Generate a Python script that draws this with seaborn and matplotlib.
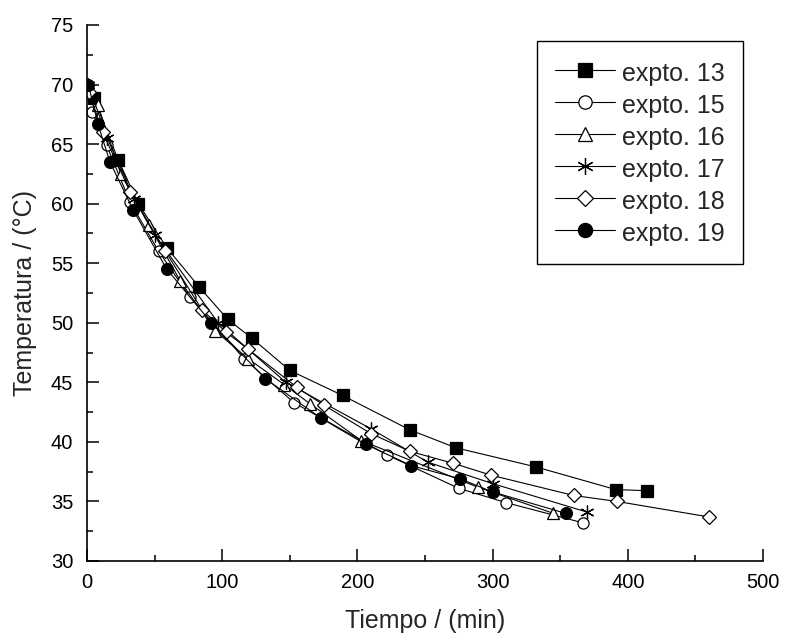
import matplotlib
matplotlib.use("Agg")
import matplotlib.pyplot as plt
from matplotlib.ticker import MultipleLocator
import seaborn as sns
import pandas as pd

# Cooling curves: time (min) and temperature (°C) for each experiment
t13 = [5, 23, 38, 59, 83, 104, 122, 150, 189, 239, 273, 332, 391, 414]
T13 = [68.9, 63.7, 60.0, 56.3, 53.0, 50.3, 48.7, 46.0, 43.9, 41.0, 39.5, 37.9, 36.0, 35.9]

t15 = [4, 14.5, 32, 53, 76, 116, 153, 222, 275, 310, 367]
T15 = [67.7, 64.9, 60.1, 56.0, 52.2, 47.0, 43.3, 38.9, 36.1, 34.9, 33.2]

t16 = [8, 25, 46, 69, 95, 119, 146, 165, 203, 289, 345]
T16 = [68.3, 62.5, 58.2, 53.5, 49.3, 47.0, 44.8, 43.2, 40.1, 36.2, 34.0]

t17 = [1, 15, 35, 50, 97, 147, 210, 252, 300, 370]
T17 = [70.0, 65.5, 60.4, 57.4, 50.0, 45.0, 41.1, 38.3, 36.5, 34.1]

t18 = [1.5, 11.5, 32, 58, 85, 103, 119, 155, 175, 210, 239, 271, 299, 360, 392, 460]
T18 = [69.4, 66.0, 61.0, 56.0, 51.1, 49.2, 47.8, 44.6, 43.1, 40.7, 39.2, 38.2, 37.2, 35.5, 35.0, 33.7]

t19 = [1, 8, 17, 34, 59, 92, 132, 173, 206, 240, 276, 300, 354]
T19 = [70.0, 66.7, 63.5, 59.5, 54.5, 50.0, 45.3, 42.0, 39.8, 38.0, 36.9, 35.8, 34.0]

labels = ["expto. 13", "expto. 15", "expto. 16", "expto. 17", "expto. 18", "expto. 19"]

series = [
    (t13, T13, labels[0], dict(marker="s", markersize=8, mfc="black", mec="black")),
    (t15, T15, labels[1], dict(marker="o", markersize=8, mfc="white", mec="black")),
    (t16, T16, labels[2], dict(marker="^", markersize=8.5, mfc="white", mec="black")),
    (t17, T17, labels[3], dict(marker=(6, 2, 0), markersize=10, mfc="black", mec="black")),
    (t18, T18, labels[4], dict(marker="D", markersize=7, mfc="white", mec="black")),
    (t19, T19, labels[5], dict(marker="o", markersize=8.5, mfc="black", mec="black")),
]

sns.set_style("ticks")
plt.rcParams["font.family"] = ["Liberation Sans", "DejaVu Sans"]

fig = plt.figure(figsize=(7.88, 6.44), dpi=100)
ax = fig.add_axes([87 / 788, 1 - 561 / 644, 676 / 788, 536 / 644])

for t, T, lab, style in series:
    df = pd.DataFrame({"t": t, "T": T})
    sns.lineplot(data=df, x="t", y="T", ax=ax, color="black", linewidth=0.8,
                 markeredgewidth=0.9, estimator=None, sort=False,
                 label=lab, **style)

ax.set_xlim(0, 500)
ax.set_ylim(30, 75)
ax.xaxis.set_major_locator(MultipleLocator(100))
ax.xaxis.set_minor_locator(MultipleLocator(50))
ax.yaxis.set_major_locator(MultipleLocator(5))
ax.yaxis.set_minor_locator(MultipleLocator(2.5))

for side in ("top", "right"):
    ax.spines[side].set_visible(False)
for side in ("left", "bottom"):
    ax.spines[side].set_linewidth(1.2)
    ax.spines[side].set_color("black")

ax.tick_params(which="both", direction="in", width=1.1, colors="black",
               top=False, right=False)
ax.tick_params(which="major", length=8.5, labelsize=14.5)
ax.tick_params(axis="y", which="major", pad=10)
ax.tick_params(axis="x", which="major", pad=9)
ax.tick_params(which="minor", length=4.3)

ax.set_xlabel("Tiempo / (min)", fontsize=18, va="center")
ax.set_ylabel("Temperatura / (°C)", fontsize=18, va="center")
ax.xaxis.set_label_coords(0.5, (561 - 621) / 536)
ax.yaxis.set_label_coords((25 - 87) / 676, 0.5)

leg = ax.legend(loc="upper left", bbox_to_anchor=(537 / 788, 1 - 41 / 644),
                bbox_transform=fig.transFigure, borderaxespad=0,
                fontsize=18, frameon=True, fancybox=False, shadow=False,
                handlelength=2.4, handleheight=1.25, handletextpad=0.3,
                labelspacing=0.22, borderpad=0.72, markerscale=1.2, numpoints=1)
leg.get_frame().set_edgecolor("black")
leg.get_frame().set_linewidth(1.0)
leg.get_frame().set_facecolor("white")
leg.get_frame().set_alpha(1.0)

fig.savefig("out.png", dpi=100)
